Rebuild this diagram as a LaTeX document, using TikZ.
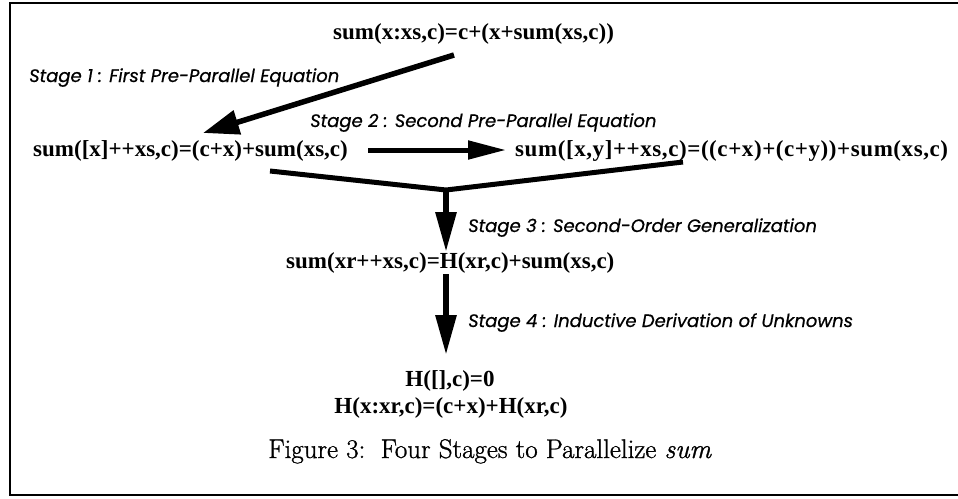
\documentclass[tikz,border=0pt]{standalone}
\usepackage{fontspec}
\newfontfamily\tmsfont{Liberation Serif}
\newfontfamily\tmswide[LetterSpace=2.5]{Liberation Serif}
\newfontfamily\gothfont[FakeBold=0.6]{Poppins}
\newfontfamily\capfont[FakeBold=1.0]{Latin Modern Roman}
\usetikzlibrary{arrows.meta}
\tikzset{
  eq/.style={font=\tmsfont\bfseries\fontsize{23}{26}\selectfont, inner sep=0pt, anchor=base west},
  eqwide/.style={eq, font=\tmswide\bfseries\fontsize{23}{26}\selectfont},
  stagelbl/.style={font=\gothfont\itshape\fontsize{18}{20}\selectfont, inner sep=0pt, anchor=base west},
  bigarrow/.style={line width=5.5pt, -{Triangle[length=36pt,width=24pt]}},
  midarrow/.style={line width=5pt, -{Triangle[length=38pt,width=18pt]}},
  downarrow/.style={line width=6pt, -{Triangle[length=40pt,width=20pt]}},
  merge/.style={line width=5pt, line join=miter}
}
\begin{document}
\begin{tikzpicture}[x=1pt,y=-1pt]
\useasboundingbox (0,0) rectangle (958,498);
\fill[white] (0,0) rectangle (958,498);
% frame
\draw[line width=2pt] (970,3) -- (10,3) -- (10,495) -- (970,495);
% equations
\node[eq] (top) at (333,39) {sum(x:xs,c)=c+(x+sum(xs,c))};
\node[eq] (left) at (33,156) {sum([x]++xs,c)=(c+x)+sum(xs,c)};
\node[eqwide] (right) at (515,156) {sum([x,y]++xs,c)=((c+x)+(c+y))+sum(xs,c)};
\node[eq] (gen) at (286,268) {sum(xr++xs,c)=H(xr,c)+sum(xs,c)};
\node[eq, anchor=base] (h1) at (450,386) {H([],c)=0};
\node[eq, anchor=base] (h2) at (451,413) {H(x:xr,c)=(c+x)+H(xr,c)};
% stage labels
\node[stagelbl] (s1) at (29,82) {Stage 1 : First Pre-Parallel Equation};
\node[stagelbl] (s2) at (310,127) {Stage 2 : Second Pre-Parallel Equation};
\node[stagelbl] (s3) at (468,232) {Stage 3 : Second-Order Generalization};
\node[stagelbl] (s4) at (468,327) {Stage 4 : Inductive Derivation of Unknowns};
% caption
\node[inner sep=0pt, anchor=base, font=\capfont\fontsize{27}{30}\selectfont] (cap) at (490,458) {Figure 3:\, Four Stages to Parallelize \textit{sum}};
% coordinates
\coordinate (a1s) at (454,55);
\coordinate (a1e) at (203,133);
\coordinate (a2s) at (368,150);
\coordinate (a2e) at (506,150);
\coordinate (ml) at (270,171);
\coordinate (mr) at (683,162);
\coordinate (j) at (446,190);
\coordinate (d1e) at (446,252);
\coordinate (d2s) at (446,274);
\coordinate (d2e) at (446,355);
% arrows
\draw[bigarrow] (a1s) -- (a1e);
\draw[midarrow] (a2s) -- (a2e);
\draw[merge] (ml) -- (j) -- (mr);
\draw[downarrow] (j) -- (d1e);
\draw[downarrow] (d2s) -- (d2e);
\end{tikzpicture}
\end{document}
